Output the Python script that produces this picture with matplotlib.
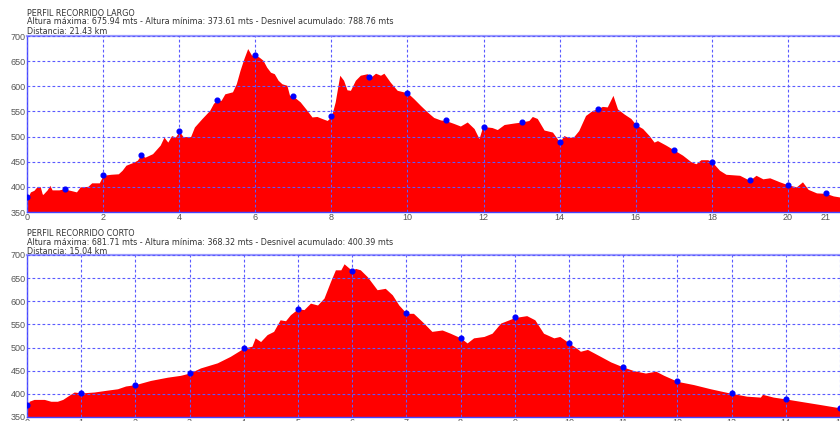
import numpy as np
import matplotlib
matplotlib.use('Agg')
import matplotlib.pyplot as plt

# Perfil largo: distancia (km) y altura (m)
largo_km = [0.0, 0.09, 0.18, 0.26, 0.3, 0.35, 0.4, 0.42, 0.53, 0.6, 0.66, 0.84, 0.97, 1.14,
            1.3, 1.4, 1.6, 1.7, 1.9, 2.0, 2.2, 2.4, 2.5, 2.6, 2.8, 2.9, 3.0, 3.1, 3.3, 3.5,
            3.6, 3.7, 3.8, 3.9, 4.0, 4.1, 4.3, 4.4, 4.6, 4.8, 4.9, 5.0, 5.1, 5.2, 5.4, 5.5,
            5.6, 5.7, 5.8, 5.9, 6.0, 6.1, 6.2, 6.3, 6.4, 6.5, 6.6, 6.7, 6.83, 6.9, 7.0,
            7.18, 7.36, 7.49, 7.62, 7.75, 7.89, 8.0, 8.1, 8.22, 8.32, 8.41, 8.5, 8.63, 8.76,
            8.94, 9.03, 9.16, 9.29, 9.38, 9.55, 9.73, 10.0, 10.17, 10.34, 10.52, 10.69,
            10.87, 11.0, 11.22, 11.39, 11.57, 11.75, 11.88, 11.96, 12.0, 12.22, 12.36,
            12.54, 12.8, 13.0, 13.19, 13.28, 13.41, 13.59, 13.81, 14.0, 14.11, 14.24,
            14.37, 14.5, 14.68, 14.86, 14.99, 15.12, 15.25, 15.4, 15.52, 15.69, 15.87,
            16.0, 16.18, 16.35, 16.48, 16.57, 16.79, 16.99, 17.23, 17.45, 17.58, 17.71,
            17.89, 18.0, 18.2, 18.37, 18.73, 18.99, 19.16, 19.34, 19.52, 19.78, 20.0,
            20.22, 20.38, 20.53, 20.75, 21.0, 21.19, 21.43]
largo_alt = [376, 390, 393, 400, 401, 400, 386, 385, 394, 403, 394, 394, 396, 393,
             390, 400, 401, 408, 408, 423, 425, 426, 433, 443, 449, 453, 464, 459, 466, 483,
             499, 489, 502, 499, 511, 500, 500, 519, 536, 552, 566, 573, 572, 585, 589, 605,
             632, 655, 675, 662, 662, 658, 652, 638, 628, 625, 612, 605, 602, 582, 580,
             569, 552, 539, 540, 536, 532, 540, 569, 622, 612, 593, 592, 612, 622,
             625, 618, 626, 622, 626, 608, 592, 587, 575, 562, 549, 538,
             533, 532, 526, 521, 529, 516, 496, 516, 520, 518, 514,
             524, 527, 529, 532, 540, 536, 513, 509, 489, 502, 498,
             500, 512, 542, 552, 555, 560, 559, 582, 555, 545, 536,
             524, 516, 502, 489, 492, 483, 474, 463, 450, 446, 454,
             454, 450, 433, 425, 423, 413, 423, 416, 418, 410, 404,
             400, 410, 395, 388, 387, 382, 379]
largo_pk_km = list(range(0, 22))
largo_pk_alt = [380, 396, 424, 464, 511, 573, 662, 580, 540, 618, 587, 532, 520, 529,
                489, 555, 524, 474, 450, 413, 404, 387]

# Perfil corto
corto_km = [0.0, 0.04, 0.13, 0.32, 0.44, 0.56, 0.66, 0.75, 0.87, 1.0, 1.24, 1.48, 1.67,
            1.82, 2.0, 2.28, 2.59, 2.83, 3.0, 3.2, 3.51, 3.75, 4.0, 4.15, 4.21, 4.31, 4.43,
            4.55, 4.67, 4.77, 4.86, 5.0, 5.11, 5.23, 5.36, 5.48, 5.6, 5.69, 5.79, 5.85,
            5.91, 6.0, 6.06, 6.15, 6.28, 6.46, 6.61, 6.74, 6.86, 7.0, 7.13, 7.32, 7.47,
            7.66, 7.81, 8.0, 8.12, 8.24, 8.43, 8.58, 8.74, 8.85, 9.0, 9.22, 9.37, 9.53,
            9.72, 9.83, 10.0, 10.17, 10.21, 10.34, 10.58, 10.77, 11.0, 11.2, 11.41, 11.6,
            11.75, 12.0, 12.3, 12.61, 13.0, 13.28, 13.53, 13.57, 13.77, 14.0, 14.26,
            14.63, 14.99, 15.04]
corto_alt = [370, 384, 388, 388, 384, 384, 388, 395, 404, 402, 404, 408, 411,
             417, 420, 429, 436, 440, 445, 456, 467, 481, 499, 503, 521, 513, 528,
             535, 560, 558, 571, 584, 582, 596, 592, 607, 643, 668, 668, 681,
             675, 666, 671, 668, 653, 625, 628, 614, 592, 574, 574, 553, 535,
             538, 531, 521, 510, 521, 524, 531, 553, 558, 565, 569, 560, 531,
             521, 524, 510, 496, 492, 496, 481, 469, 458, 450, 445, 449,
             440, 427, 420, 411, 401, 395, 393, 399, 393, 389, 384,
             377, 370, 368]
corto_pk_km = list(range(0, 16))
corto_pk_alt = [376, 402, 420, 445, 499, 584, 666, 574, 521, 565, 510, 458, 427, 401,
                389, 370]

titulos = [["PERFIL RECORRIDO LARGO",
            "Altura máxima: 675.94 mts - Altura mínima: 373.61 mts - Desnivel acumulado: 788.76 mts",
            "Distancia: 21.43 km"],
           ["PERFIL RECORRIDO CORTO",
            "Altura máxima: 681.71 mts - Altura mínima: 368.32 mts - Desnivel acumulado: 400.39 mts",
            "Distancia: 15.04 km"]]

plt.rcParams['font.family'] = 'Liberation Sans'

W, H = 840, 421
fig = plt.figure(figsize=(W / 100, H / 100), dpi=100)


def perfil(rect, km, alt, pk_km, pk_alt, xmax, xticks, label_end, textos, text_y):
    ax = fig.add_axes(rect)
    ax.fill_between(km, 350, alt, color='#ff0000', linewidth=0, zorder=2)
    ax.plot(pk_km, pk_alt, 'o', color='#0000ff', markersize=3.4, zorder=4)
    ax.set_xlim(0, xmax)
    ax.set_ylim(350, 700)
    ax.set_yticks(range(350, 701, 50))
    ax.set_xticks(xticks)
    if label_end is not None:
        ax.set_xticks([label_end], minor=True)
        ax.set_xticklabels([str(label_end)], minor=True)
    ax.grid(True, which='major', color='#5a5aff', linestyle=(0, (2.5, 2)), linewidth=0.8, zorder=3)
    ax.set_axisbelow(False)
    ax.tick_params(which='both', length=0, labelsize=6.5, labelcolor='#555555', pad=1.0)
    for s in ['left', 'bottom']:
        ax.spines[s].set_color('#4444ff')
        ax.spines[s].set_linewidth(1.0)
    ax.spines['top'].set_color('#9999ff')
    ax.spines['top'].set_linewidth(1.6)
    ax.spines['right'].set_visible(False)
    for t, y in zip(textos, text_y):
        fig.text(27 / W, 1 - y / H, t, fontsize=5.8, color='#333333', family='DejaVu Sans',
                 va='center', ha='left')
    return ax


px_km_l = 38.05
px_km_c = 54.2
perfil([27 / W, 1 - 212 / H, 21.43 * px_km_l / W, 176 / H],
       largo_km, largo_alt, largo_pk_km, largo_pk_alt, 21.43, list(range(0, 21, 2)), 21,
       titulos[0], [13, 22, 31])
perfil([27 / W, 1 - 417 / H, 15.04 * px_km_c / W, 162 / H],
       corto_km, corto_alt, corto_pk_km, corto_pk_alt, 15.04, list(range(0, 16)), None,
       titulos[1], [233.5, 242.5, 251.5])

fig.savefig('out.png', dpi=100)
